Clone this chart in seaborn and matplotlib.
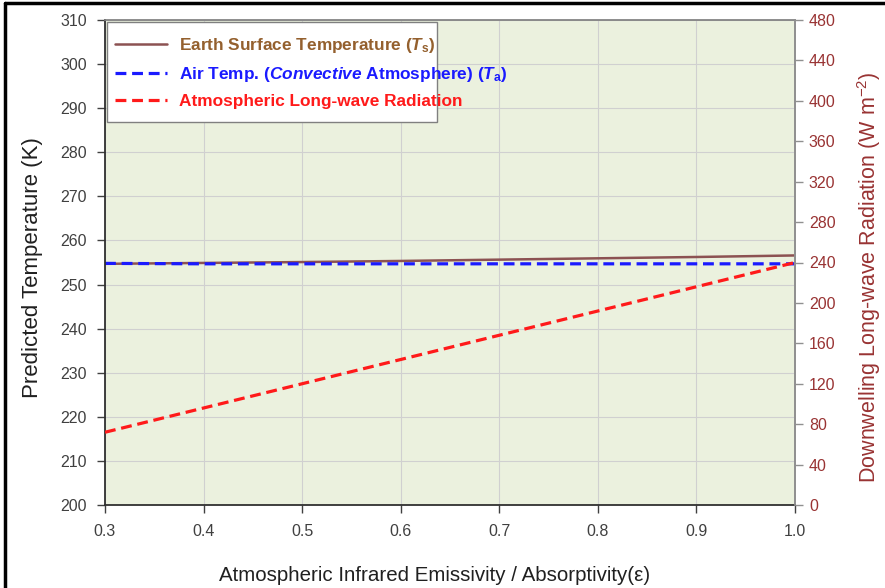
import matplotlib
matplotlib.use("Agg")
import matplotlib.pyplot as plt
from matplotlib.lines import Line2D
from matplotlib.patches import Rectangle
import seaborn as sns
import pandas as pd

# ---- data ----
emissivity = [0.3, 0.4, 0.5, 0.6, 0.7, 0.8, 0.9, 1.0]
surface_temp = [254.7, 254.9, 255.1, 255.35, 255.65, 255.95, 256.25, 256.6]
air_temp = [254.8, 254.7, 254.7, 254.7, 254.7, 254.7, 254.7, 254.7]
lw_radiation = [72, 96, 120, 144, 168, 192, 216, 240]

x_ticks = [0.3, 0.4, 0.5, 0.6, 0.7, 0.8, 0.9, 1.0]
left_ticks = list(range(200, 311, 10))
right_ticks = list(range(0, 481, 40))

sns.set_theme(style="white")
plt.rcParams["font.family"] = ["Liberation Sans", "DejaVu Sans"]
plt.rcParams["mathtext.fontset"] = "custom"
plt.rcParams["mathtext.rm"] = "Liberation Sans"
plt.rcParams["mathtext.it"] = "Liberation Sans:italic:bold"
plt.rcParams["mathtext.bf"] = "Liberation Sans:bold"

df = pd.DataFrame({"eps": emissivity, "Ts": surface_temp, "Ta": air_temp, "LW": lw_radiation})

fig = plt.figure(figsize=(8.85, 5.88), dpi=100)
ax = fig.add_axes([105 / 885, 83 / 588, 690 / 885, 485 / 588])
ax.set_facecolor("#EBF1DE")
ax2 = ax.twinx()

c_ts = "#8C5252"
c_ts_text = "#94602E"
c_ta = "#1A1AFF"
c_lw = "#FF1A1A"
c_right = "#993333"
c_ticks = "#404040"
dash = (0, (3.4, 1.8))

sns.lineplot(data=df, x="eps", y="Ts", ax=ax, color=c_ts, linewidth=1.8)
sns.lineplot(data=df, x="eps", y="Ta", ax=ax, color=c_ta, linewidth=2.3, linestyle=dash)
sns.lineplot(data=df, x="eps", y="LW", ax=ax2, color=c_lw, linewidth=2.3, linestyle=dash)

ax.set_xlim(0.3, 1.0)
ax.set_ylim(200, 310)
ax2.set_ylim(0, 480)
ax.set_xticks(x_ticks)
ax.set_xticklabels([f"{v:.1f}" for v in x_ticks])
ax.set_yticks(left_ticks)
ax2.set_yticks(right_ticks)

ax.grid(True, color="#D0D0D0", linewidth=0.8)
ax.set_axisbelow(True)
ax2.grid(False)

ax.tick_params(axis="both", which="both", direction="out", length=6, width=1,
               color="#404040", labelsize=11.5, labelcolor=c_ticks)
ax.tick_params(axis="y", pad=7)
ax.tick_params(axis="x", pad=8)
ax2.tick_params(axis="y", direction="out", length=6, width=1, color="#909090",
                labelsize=11.5, labelcolor=c_right, pad=4)
ax.tick_params(left=True, bottom=True)
ax2.tick_params(right=True)

for s in ["left", "bottom"]:
    ax.spines[s].set_color("#303030")
    ax.spines[s].set_linewidth(1.3)
ax.spines["top"].set_color("#808080")
ax.spines["right"].set_color("#909090")
for s in ["left", "bottom", "top"]:
    ax2.spines[s].set_visible(False)
ax2.spines["right"].set_color("#909090")

ax.set_xlabel("Atmospheric Infrared Emissivity / Absorptivity(ε)", fontsize=14.8,
              color="#202020")
ax.xaxis.set_label_coords(0.478, -0.125)
ax.set_ylabel("Predicted Temperature (K)", fontsize=16, color="#202020")
ax.yaxis.set_label_coords(-0.09, 0.49)
ax2.set_ylabel(r"Downwelling Long-wave Radiation (W m$\mathregular{^{-2}}$)", fontsize=15.5,
               color=c_right, rotation=90)
ax2.yaxis.set_label_coords(1.087, 0.47)

# legend box (text overflows it, as in the original)
ax2.add_patch(Rectangle((2 / 690, (505 - 122) / 485), 330 / 690, 100 / 485,
                        transform=ax2.transAxes, facecolor="white", edgecolor="#808080",
                        linewidth=1.0, zorder=4))

handles = [
    Line2D([], [], color=c_ts, linewidth=1.8),
    Line2D([], [], color=c_ta, linewidth=2.3, linestyle=dash),
    Line2D([], [], color=c_lw, linewidth=2.3, linestyle=dash),
]
labels = [
    r"Earth Surface Temperature ($T_{\mathbf{s}}$)",
    r"Air Temp. ($Convective$ Atmosphere) ($T_{\mathbf{a}}$)",
    "Atmospheric Long-wave Radiation",
]
leg = ax2.legend(handles, labels, loc="upper left", bbox_to_anchor=(0.0, 1.0 - 6 / 485),
                 frameon=False, prop={"weight": "bold", "size": 12.4}, handlelength=3.0,
                 borderpad=0.0, labelspacing=0.56, handletextpad=0.72,
                 borderaxespad=0.6)
leg.set_zorder(5)
for txt, col in zip(leg.get_texts(), [c_ts_text, "#1A1AFF", "#FF1A1A"]):
    txt.set_color(col)

# outer figure border (left and top)
fig.add_artist(Line2D([5 / 885, 5 / 885], [0, 1 - 3 / 588], color="black", linewidth=2.5,
                      transform=fig.transFigure))
fig.add_artist(Line2D([5 / 885, 1], [1 - 3 / 588, 1 - 3 / 588], color="black", linewidth=2.5,
                      transform=fig.transFigure))

fig.savefig("out.png", dpi=100)
